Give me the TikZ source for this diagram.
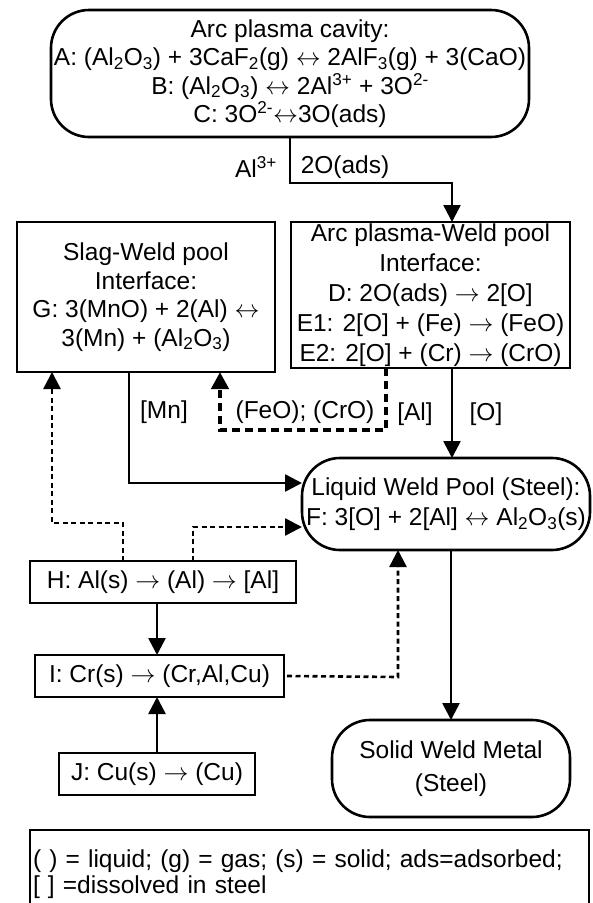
\documentclass[tikz,border=0pt]{standalone}
\usepackage{fontspec}
\setmainfont{Liberation Sans}
\usetikzlibrary{arrows.meta}
\begin{document}
\begin{tikzpicture}[x=1pt,y=-1pt,
  every node/.style={font=\fontsize{24.5}{28.5}\selectfont, inner sep=0pt, outer sep=0pt},
  box/.style={draw, line width=2.6pt, align=center},
  rbox/.style={box, rounded corners=38pt},
  sbox/.style={draw, line width=2pt, align=left, inner xsep=4pt, anchor=west},
  tip/.style={-{Triangle[length=17pt,width=17pt]}},
  arr/.style={line width=2.6pt, tip},
  dotarr/.style={line width=2.6pt, dash pattern=on 5pt off 3.5pt, tip},
  dasharr/.style={line width=4.5pt, dash pattern=on 8pt off 5pt, tip},
  lbl/.style={font=\fontsize{24.5}{28.5}\selectfont}
]
\useasboundingbox (0,0) rectangle (593,903);

% nodes
\node[rbox, minimum width=478pt, minimum height=127pt] (top) at (290,73.5)
  {Arc plasma cavity:\\
   A: (Al\textsubscript{2}O\textsubscript{3}) + 3CaF\textsubscript{2}(g) $\leftrightarrow$ 2AlF\textsubscript{3}(g) + 3(CaO)\\
   B: (Al\textsubscript{2}O\textsubscript{3}) $\leftrightarrow$ 2Al\textsuperscript{3+} + 3O\textsuperscript{2-}\\
   C: 3O\textsuperscript{2-}$\leftrightarrow$3O(ads)};

\node[box, minimum width=258pt, minimum height=150pt] (slag) at (146,297)
  {Slag-Weld pool\\ Interface:\\ G: 3(MnO) + 2(Al) $\leftrightarrow$\\ 3(Mn) + (Al\textsubscript{2}O\textsubscript{3})};

\node[box, minimum width=279pt, minimum height=146pt, font=\fontsize{24.5}{30}\selectfont] (arcwp) at (430.5,295)
  {Arc plasma-Weld pool\\ Interface:\\ D: 2O(ads) $\rightarrow$ 2[O]\\ E1: 2[O] + (Fe) $\rightarrow$ (FeO)\\ E2: 2[O] + (Cr) $\rightarrow$ (CrO)};

\node[rbox, minimum width=288pt, minimum height=92pt, font=\fontsize{24.5}{30}\selectfont] (liquid) at (446,504)
  {Liquid Weld Pool (Steel):\\ F: 3[O] + 2[Al] $\leftrightarrow$ Al\textsubscript{2}O\textsubscript{3}(s)};

\node[rbox, minimum width=238pt, minimum height=97pt, font=\fontsize{24.5}{33}\selectfont] (solid) at (451,768.5)
  {Solid Weld Metal\\ (Steel)};

\node[sbox, minimum width=266pt, minimum height=42pt] (H) at (30,582)
  {H: Al(s) $\rightarrow$ (Al) $\rightarrow$ [Al]};
\node[sbox, minimum width=249pt, minimum height=42pt] (I) at (35,676)
  {I: Cr(s) $\rightarrow$ (Cr,Al,Cu)};
\node[sbox, minimum width=196pt, minimum height=42pt] (J) at (59,774)
  {J: Cu(s) $\rightarrow$ (Cu)};

\node[draw, line width=2pt, anchor=north west, text width=553pt, minimum height=88pt,
      inner xsep=3pt, align=left, font=\fontsize{24.5}{26}\selectfont] (leg) at (30,830)
  {( ) = liquid; (g) = gas; (s) = solid; ads=adsorbed;\\\relax [ ] =dissolved in steel};

% labels
\node[lbl] (lAl) at (256,167) {Al\textsuperscript{3+}};
\node[lbl] (lOads) at (345,167) {2O(ads)};
\node[lbl] (lMn) at (164,412) {[Mn]};
\node[lbl] (lFeO) at (305,412) {(FeO); (CrO)};
\node[lbl] (lAl2) at (415,414) {[Al]};
\node[lbl] (lO) at (486,414) {[O]};

% helper coordinates
\coordinate (c1) at (452,183);
\coordinate (c3) at (129,483);
\coordinate (c4) at (386,430);
\coordinate (c5) at (220,430);
\coordinate (c6) at (123,523);
\coordinate (c7) at (52,523);
\coordinate (c8) at (193,527);
\coordinate (c9) at (398,677);
\coordinate (c10) at (157,0);

% connectors
\draw[arr] (top.south) |- (c1) -- (c1 |- arcwp.north);
\draw[arr] (c1 |- arcwp.south) -- (c1 |- liquid.north);
\draw[arr] (liquid.south -| solid.north) -- (solid.north);
\draw[arr] (c3 |- slag.south) -- (c3) -- (liquid.west |- c3);
\draw[dasharr] (c4 |- arcwp.south) -- (c4) -- (c5) -- (c5 |- slag.south);
\draw[dotarr] (c6 |- H.north) -- (c6) -- (c7) -- (c7 |- slag.south);
\draw[dotarr] (c8 |- H.north) -- (c8) -- (liquid.west |- c8);
\draw[dotarr] ([xshift=3pt]I.east) -- (c9) -- (c9 |- liquid.south);
\draw[arr] (c10 |- H.south) -- (c10 |- I.north);
\draw[arr] (c10 |- J.north) -- (c10 |- I.south);
\end{tikzpicture}
\end{document}
